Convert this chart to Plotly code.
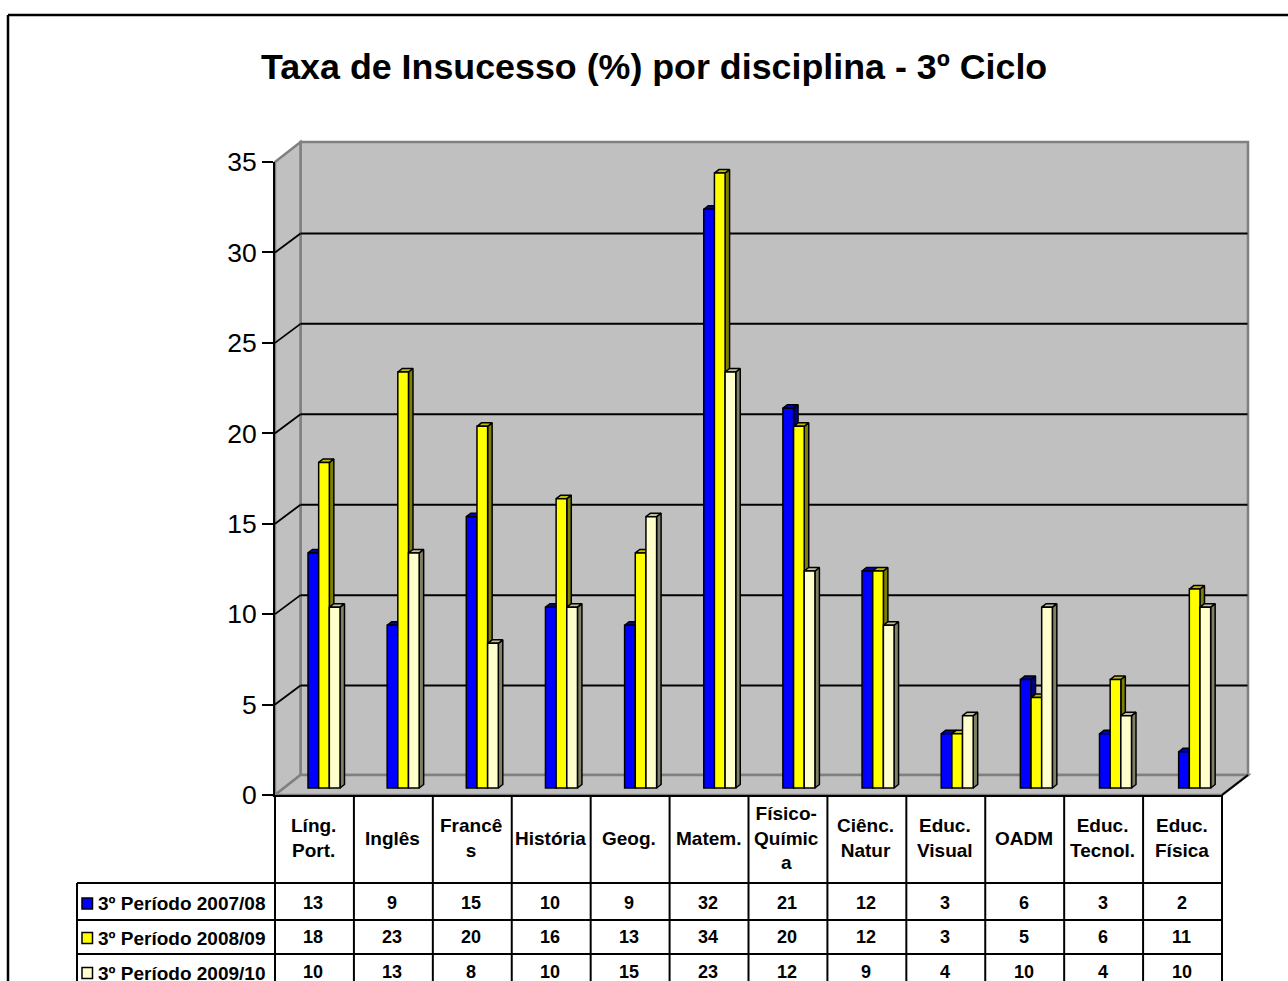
import plotly.graph_objects as go

W, H = 1288, 981
TITLE = "Taxa de Insucesso (%) por disciplina - 3º Ciclo"
categories = ["Líng.<br>Port.", "Inglês", "Francê<br>s", "História", "Geog.", "Matem.",
              "Físico-<br>Químic<br>a", "Ciênc.<br>Natur", "Educ.<br>Visual", "OADM",
              "Educ.<br>Tecnol.", "Educ.<br>Física"]
series_names = ["3º Período 2007/08", "3º Período 2008/09", "3º Período 2009/10"]
periodo_2007_08 = [13, 9, 15, 10, 9, 32, 21, 12, 3, 6, 3, 2]
periodo_2008_09 = [18, 23, 20, 16, 13, 34, 20, 12, 3, 5, 6, 11]
periodo_2009_10 = [10, 13, 8, 10, 15, 23, 12, 9, 4, 10, 4, 10]
y_ticks = [0, 5, 10, 15, 20, 25, 30, 35]

series_values = [periodo_2007_08, periodo_2008_09, periodo_2009_10]
front_colors = ["#0000FF", "#FFFF00", "#FFFFCC"]
side_colors = ["#000080", "#808000", "#808066"]
top_colors = ["#0000C0", "#BFBF00", "#BFBF99"]

# pixel frame of the chart
L, R, Y0, Y35 = 275, 1222, 795, 162
DX, DY = 25.5, 20
ROWS = [883, 920, 954]
LEG_L = 77
cw = (R - L) / 12
uy = (Y0 - Y35) / 35
px = lambda x: x / W
py = lambda y: 1 - y / H

# bars sit a little behind the front plane, with a slightly wider pitch
BAR_PITCH = 79.15
BAR_ORIGIN = 324
SHIFT_Y = 7 / uy
BAR_GAP = 1 - 32 / BAR_PITCH
bw = (1 - BAR_GAP) / 3
dx, dy = 4.5 / BAR_PITCH, 3.5 / uy

n = len(categories)
xr_main = [-0.5, n - 0.5]
yr_main = [0, 35]
xr_bar = [(L - BAR_ORIGIN) / BAR_PITCH, (R - BAR_ORIGIN) / BAR_PITCH]
yr_bar = [yr_main[0] - SHIFT_Y, yr_main[1] - SHIFT_Y]

fig = go.Figure()
fig.add_trace(go.Scatter(x=[None], y=[None], xaxis="x", yaxis="y", showlegend=False, hoverinfo="skip"))

# depth faces, below the front faces
OUT = dict(color="#000000", width=1.5)
for s, vals in enumerate(series_values):
    sx, sy, tx, ty = [], [], [], []
    for i, v in enumerate(vals):
        c = i + (s - 1) * bw
        xl, xr = c - bw / 2, c + bw / 2
        sx += [xr, xr + dx, xr + dx, xr, xr, None]
        sy += [0, dy, v + dy, v, 0, None]
        tx += [xl, xl + dx, xr + dx, xr, xl, None]
        ty += [v, v + dy, v + dy, v, v, None]
    fig.add_trace(go.Scatter(x=sx, y=sy, mode="lines", fill="toself", fillcolor=side_colors[s],
                             line=OUT, xaxis="x2", yaxis="y2", showlegend=False, hoverinfo="skip"))
    fig.add_trace(go.Scatter(x=tx, y=ty, mode="lines", fill="toself", fillcolor=top_colors[s],
                             line=OUT, xaxis="x2", yaxis="y2", showlegend=False, hoverinfo="skip"))

for s, vals in enumerate(series_values):
    fig.add_trace(go.Bar(x=list(range(n)), y=vals, name=series_names[s], marker_color=front_colors[s],
                         marker_line=OUT, xaxis="x3", yaxis="y3", showlegend=False))

shapes = []
def poly(points, fill=None, color=None, width=0):
    path = "M " + " L ".join(f"{px(a):.5f},{py(b):.5f}" for a, b in points) + " Z"
    shapes.append(dict(type="path", path=path, xref="paper", yref="paper", layer="below",
                       fillcolor=fill or "rgba(0,0,0,0)",
                       line=dict(color=color or "rgba(0,0,0,0)", width=width)))
def line(x0, y0, x1, y1, color="#000000", width=2, layer="below"):
    shapes.append(dict(type="line", xref="paper", yref="paper", layer=layer,
                       x0=px(x0), y0=py(y0), x1=px(x1), y1=py(y1),
                       line=dict(color=color, width=width)))

GRAY = "#C0C0C0"
WALL = "#808080"
poly([(L + DX, Y35 - DY), (R + DX + .5, Y35 - DY), (R + DX + .5, Y0 - DY), (L + DX, Y0 - DY)], GRAY, WALL, 2.5)
poly([(L, Y35), (L + DX, Y35 - DY), (L + DX, Y0 - DY), (L, Y0)], GRAY, WALL, 2.5)
poly([(L, Y0), (L + DX, Y0 - DY), (R + DX + .5, Y0 - DY), (R, Y0)], GRAY, WALL, 2.5)
for t in y_ticks[1:-1]:
    yy = Y0 - t * uy
    line(L, yy, L + DX, yy - DY + 1, width=1.8)
    line(L + DX, yy - DY + 1, R + DX, yy - DY + 1, width=2)
line(R, Y0, R + DX + .5, Y0 - DY, width=1.8)

# outer frame
line(8, 15, W + 2, 15, width=2.5)
line(8, 15, 8, H + 2, width=2.5)

# data table
TC = "#000000"
line(L, Y0, L, H + 2, TC, 2)
for i in range(1, n + 1):
    line(L + i * cw, Y0, L + i * cw, H + 2, TC, 2)
for y in ROWS:
    line(LEG_L, y, R, y, TC, 2)
line(LEG_L, ROWS[0], LEG_L, H + 2, TC, 2)

anns = []
TXT = dict(family="Liberation Sans, Arial, sans-serif", color="#000000")
for i, c in enumerate(categories):
    anns.append(dict(text=f"<b>{c}</b>", x=i, xref="x", xshift=-1, y=py((Y0 + ROWS[0]) / 2 - 1), yref="paper",
                     showarrow=False, font=dict(size=19, **TXT), xanchor="center", yanchor="middle"))
row_mid = [902.5, 937, 972]
for s, vals in enumerate(series_values):
    for i, v in enumerate(vals):
        anns.append(dict(text=f"<b>{v}</b>", x=i, xref="x", xshift=-1, y=py(row_mid[s]), yref="paper", showarrow=False,
                         font=dict(size=18, **TXT), xanchor="center", yanchor="middle"))
    anns.append(dict(text=f"<b>{series_names[s]}</b>", x=px(96), xref="paper", y=py(row_mid[s] + 1), yref="paper",
                     showarrow=False, font=dict(size=19, **TXT), xanchor="left", yanchor="middle"))
    yk = row_mid[s] + 1
    poly([(82, yk - 5.5), (92.5, yk - 5.5), (92.5, yk + 5.5), (82, yk + 5.5)], front_colors[s], "#000000", 1.5)

anns.append(dict(text=f"<b>{TITLE}</b>", x=px(653.5), xref="paper", y=py(67), yref="paper", showarrow=False,
                 font=dict(size=35.8, **TXT), xanchor="center", yanchor="middle"))

dom_x = [px(L), px(R)]
dom_y = [py(Y0), py(Y35)]
hidden = dict(visible=False, fixedrange=True)
fig.update_layout(
    width=W, height=H, autosize=False,
    margin=dict(l=0, r=0, t=0, b=0, pad=0, autoexpand=False),
    paper_bgcolor="#FFFFFF", plot_bgcolor="rgba(0,0,0,0)",
    barmode="group", bargap=BAR_GAP, bargroupgap=0,
    showlegend=False, shapes=shapes, annotations=anns,
    xaxis=dict(domain=dom_x, range=xr_main, showgrid=False, zeroline=False, showticklabels=False,
               showline=True, linecolor="#000000", linewidth=2, ticks="", fixedrange=True),
    yaxis=dict(domain=dom_y, range=yr_main, tickmode="array", tickvals=y_ticks, showgrid=False, zeroline=False,
               showline=True, linecolor="#000000", linewidth=2, ticks="outside", ticklen=11, tickwidth=2,
               tickcolor="#000000", ticklabelstandoff=0,
               tickfont=dict(size=26.5, family="Liberation Sans, Arial, sans-serif", color="#000000"),
               fixedrange=True),
    xaxis2=dict(overlaying="x", range=xr_bar, **hidden),
    yaxis2=dict(overlaying="y", range=yr_bar, **hidden),
    xaxis3=dict(overlaying="x", range=xr_bar, **hidden),
    yaxis3=dict(overlaying="y", range=yr_bar, **hidden),
)
fig.write_html("out.html", config=dict(displayModeBar=False),
               post_script="document.body.style.margin='0';document.documentElement.style.overflow='hidden';")
